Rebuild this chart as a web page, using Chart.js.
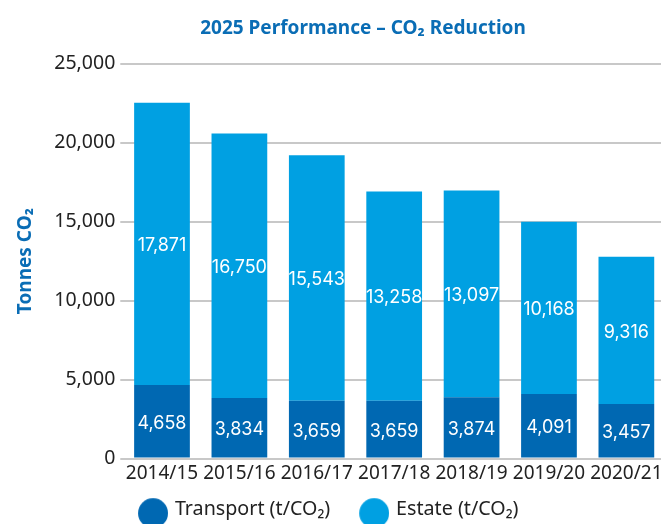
<!DOCTYPE html>
<html><head><meta charset="utf-8">
<script src="https://cdn.jsdelivr.net/npm/chart.js@4"></script>
<style>html,body{margin:0;padding:0;background:#fff;overflow:hidden;} canvas{display:block;}</style>
</head><body>
<canvas id="c" width="666" height="524"></canvas>
<script>
// ---- data ----
const categories = ['2014/15','2015/16','2016/17','2017/18','2018/19','2019/20','2020/21'];
const transport = [4658, 3834, 3659, 3659, 3874, 4091, 3457];
const estate = [17871, 16750, 15543, 13258, 13097, 10900, 9316];
const transportLabels = ['4,658','3,834','3,659','3,659','3,874','4,091','3,457'];
const estateLabels = ['17,871','16,750','15,543','13,258','13,097','10,168','9,316'];
const yTicks = [0, 5000, 10000, 15000, 20000, 25000];
const seriesNames = ['Transport (t/CO\u2082)', 'Estate (t/CO\u2082)'];
const titleText = '2025 Performance \u2013 CO\u2082 Reduction';
const yTitle = 'Tonnes CO\u2082';

const TRANSPORT = '#0068b2';
const ESTATE = '#00a0e2';
const BLUE_TEXT = '#0a6db5';
const TEXT = '#222222';

Chart.defaults.font.family = '"Noto Sans", "Open Sans", sans-serif';

// legend marker: a 30px dot at the right of a wider transparent image, slightly below centre
function legendDot(color) {
  const w = 51, h = 38, d = 30;
  const c = document.createElement('canvas');
  c.width = w; c.height = h;
  const x = c.getContext('2d');
  x.fillStyle = color;
  x.beginPath(); x.arc(w - d / 2, h / 2 + 4, d / 2, 0, Math.PI * 2); x.fill();
  return c;
}

const barLabels = {
  id: 'barLabels',
  afterDatasetsDraw(chart) {
    const ctx = chart.ctx;
    ctx.save();
    ctx.font = '18px Inter, "Noto Sans", sans-serif';
    ctx.fillStyle = '#ffffff';
    ctx.textAlign = 'center';
    ctx.textBaseline = 'middle';
    chart.data.datasets.forEach((ds, di) => {
      const meta = chart.getDatasetMeta(di);
      meta.data.forEach((bar, i) => {
        ctx.fillText(ds.valueLabels[i], bar.x, (bar.y + bar.base) / 2 + 2);
      });
    });
    ctx.restore();
  }
};

// offset the title and legend blocks horizontally, as in the reference layout
const boxOffsets = {
  id: 'boxOffsets',
  afterLayout(chart, args, opts) {
    const t = chart.titleBlock, l = chart.legend;
    if (t) { t.left += opts.title; t.right += opts.title; }
    if (l) { l.left += opts.legend; l.right += opts.legend; }
  }
};

new Chart(document.getElementById('c'), {
  type: 'bar',
  data: {
    labels: categories,
    datasets: [
      { label: seriesNames[0], data: transport, valueLabels: transportLabels, backgroundColor: TRANSPORT,
        categoryPercentage: 1, barPercentage: 0.72 },
      { label: seriesNames[1], data: estate, valueLabels: estateLabels, backgroundColor: ESTATE,
        categoryPercentage: 1, barPercentage: 0.72 }
    ]
  },
  options: {
    responsive: false,
    animation: false,
    devicePixelRatio: 1,
    layout: { padding: { left: 10, right: 0, top: 0, bottom: -5 } },
    plugins: {
      boxOffsets: { title: 25, legend: -18.75 },
      title: {
        display: true, text: titleText, color: BLUE_TEXT,
        font: { size: 19, weight: 'bold' },
        padding: { top: 17.5, bottom: 23.5 }
      },
      legend: {
        position: 'bottom',
        labels: {
          usePointStyle: true,
          pointStyleWidth: 45,
          padding: 11,
          color: TEXT,
          font: { size: 19.7 },
          generateLabels(chart) {
            return chart.data.datasets.map((ds, i) => ({
              text: ds.label,
              fillStyle: ds.backgroundColor,
              strokeStyle: ds.backgroundColor,
              lineWidth: 0,
              pointStyle: legendDot(ds.backgroundColor),
              hidden: !chart.isDatasetVisible(i),
              datasetIndex: i,
              fontColor: TEXT
            }));
          }
        }
      },
      tooltip: { enabled: false }
    },
    scales: {
      x: {
        stacked: true,
        grid: { display: false, drawTicks: false },
        border: { display: false },
        ticks: { color: TEXT, font: { size: 19 }, padding: 3.5, maxRotation: 0, autoSkip: false }
      },
      y: {
        stacked: true,
        min: 0, max: 25000,
        afterBuildTicks: s => { s.ticks = yTicks.map(v => ({ value: v })); },
        grid: { color: '#c8c8c8', lineWidth: 2, tickLength: 3, drawTicks: true },
        border: { display: false },
        ticks: { color: TEXT, font: { size: 19.5 }, padding: 5,
          callback: v => Number(v).toLocaleString('en-US') },
        title: { display: true, text: yTitle, color: BLUE_TEXT,
          font: { size: 19, weight: 'bold' }, padding: { top: 4, bottom: 12.5 } }
      }
    }
  },
  plugins: [barLabels, boxOffsets]
});
</script>
</body></html>
